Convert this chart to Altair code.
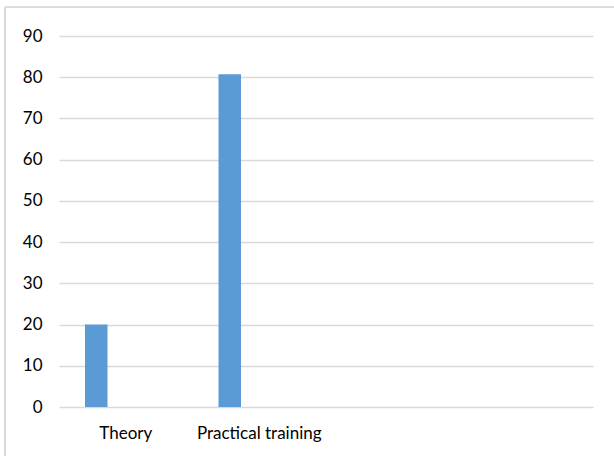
import altair as alt
import pandas as pd

# Category slots on the axis (the last two are unlabeled, empty slots)
categories = ["Theory", "Practical training", "", " "]
values = [20, 80.7, None, None]
y_ticks = [0, 10, 20, 30, 40, 50, 60, 70, 80, 90]

df = pd.DataFrame({"category": categories, "value": values})

FONT = "Lato"
GRID = "#d9d9d9"
BAR = "#5b9bd5"

PLOT_W = 534
PLOT_H = 371

x_scale = alt.Scale(domain=categories, paddingInner=0, paddingOuter=0)
y_scale = alt.Scale(domain=[0, 90], nice=False)

bars = alt.Chart(df).mark_bar(color=BAR, size=22.5, xOffset=-29.5).encode(
    x=alt.X("category:N", scale=x_scale, sort=categories,
            axis=alt.Axis(title=None, labelAngle=0, domain=False, ticks=False,
                          labelFont=FONT, labelFontSize=17, labelColor="#000000",
                          labelPadding=18, grid=False)),
    y=alt.Y("value:Q", scale=y_scale,
            axis=alt.Axis(title=None, values=y_ticks, domain=False, ticks=False,
                          labelFont=FONT, labelFontSize=17, labelColor="#000000",
                          labelPadding=17, grid=True, gridColor=GRID,
                          gridWidth=1.4)),
)

# Outer chart-area frame (light gray): only its top and left edges fall on the page
frame_top = alt.Chart(df).mark_rule(stroke=GRID, strokeWidth=1.2).encode(
    x=alt.value(-54), x2=alt.value(560), y=alt.value(-29)
)
frame_left = alt.Chart(df).mark_rule(stroke=GRID, strokeWidth=1.2).encode(
    x=alt.value(-54), y=alt.value(-29), y2=alt.value(425)
)

chart = alt.layer(frame_top, frame_left, bars).properties(
    width=PLOT_W,
    height=PLOT_H,
    autosize=alt.AutoSizeParams(type="none"),
    padding={"left": 59, "top": 36, "right": 21, "bottom": 49},
    background="#ffffff",
).configure_view(stroke=None)

chart.save("out.html", embed_options={"renderer": "svg", "actions": False})
